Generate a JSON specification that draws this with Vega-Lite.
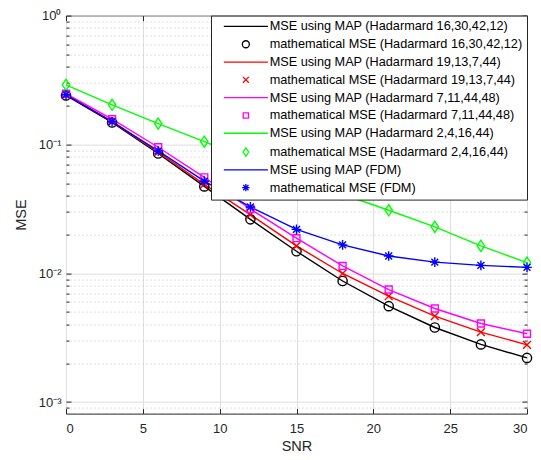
{
  "$schema": "https://vega.github.io/schema/vega-lite/v6.json",
  "width": 461,
  "height": 398,
  "autosize": {"type": "none"},
  "padding": {"left": 66, "top": 15.6, "right": 14, "bottom": 46.4},
  "background": "white",
  "data": {
    "values": [
      {"line": "MSE using MAP (Hadarmard 16,30,42,12)", "marker": "mathematical MSE (Hadarmard 16,30,42,12)", "snr": 0, "mse": 0.240},
      {"line": "MSE using MAP (Hadarmard 16,30,42,12)", "marker": "mathematical MSE (Hadarmard 16,30,42,12)", "snr": 3, "mse": 0.148},
      {"line": "MSE using MAP (Hadarmard 16,30,42,12)", "marker": "mathematical MSE (Hadarmard 16,30,42,12)", "snr": 6, "mse": 0.085},
      {"line": "MSE using MAP (Hadarmard 16,30,42,12)", "marker": "mathematical MSE (Hadarmard 16,30,42,12)", "snr": 9, "mse": 0.0472},
      {"line": "MSE using MAP (Hadarmard 16,30,42,12)", "marker": "mathematical MSE (Hadarmard 16,30,42,12)", "snr": 12, "mse": 0.0262},
      {"line": "MSE using MAP (Hadarmard 16,30,42,12)", "marker": "mathematical MSE (Hadarmard 16,30,42,12)", "snr": 15, "mse": 0.0148},
      {"line": "MSE using MAP (Hadarmard 16,30,42,12)", "marker": "mathematical MSE (Hadarmard 16,30,42,12)", "snr": 18, "mse": 0.0087},
      {"line": "MSE using MAP (Hadarmard 16,30,42,12)", "marker": "mathematical MSE (Hadarmard 16,30,42,12)", "snr": 21, "mse": 0.00555},
      {"line": "MSE using MAP (Hadarmard 16,30,42,12)", "marker": "mathematical MSE (Hadarmard 16,30,42,12)", "snr": 24, "mse": 0.00379},
      {"line": "MSE using MAP (Hadarmard 16,30,42,12)", "marker": "mathematical MSE (Hadarmard 16,30,42,12)", "snr": 27, "mse": 0.0028},
      {"line": "MSE using MAP (Hadarmard 16,30,42,12)", "marker": "mathematical MSE (Hadarmard 16,30,42,12)", "snr": 30, "mse": 0.0022},
      {"line": "MSE using MAP (Hadarmard 19,13,7,44)", "marker": "mathematical MSE (Hadarmard 19,13,7,44)", "snr": 0, "mse": 0.244},
      {"line": "MSE using MAP (Hadarmard 19,13,7,44)", "marker": "mathematical MSE (Hadarmard 19,13,7,44)", "snr": 3, "mse": 0.151},
      {"line": "MSE using MAP (Hadarmard 19,13,7,44)", "marker": "mathematical MSE (Hadarmard 19,13,7,44)", "snr": 6, "mse": 0.087},
      {"line": "MSE using MAP (Hadarmard 19,13,7,44)", "marker": "mathematical MSE (Hadarmard 19,13,7,44)", "snr": 9, "mse": 0.049},
      {"line": "MSE using MAP (Hadarmard 19,13,7,44)", "marker": "mathematical MSE (Hadarmard 19,13,7,44)", "snr": 12, "mse": 0.0285},
      {"line": "MSE using MAP (Hadarmard 19,13,7,44)", "marker": "mathematical MSE (Hadarmard 19,13,7,44)", "snr": 15, "mse": 0.0163},
      {"line": "MSE using MAP (Hadarmard 19,13,7,44)", "marker": "mathematical MSE (Hadarmard 19,13,7,44)", "snr": 18, "mse": 0.00995},
      {"line": "MSE using MAP (Hadarmard 19,13,7,44)", "marker": "mathematical MSE (Hadarmard 19,13,7,44)", "snr": 21, "mse": 0.00663},
      {"line": "MSE using MAP (Hadarmard 19,13,7,44)", "marker": "mathematical MSE (Hadarmard 19,13,7,44)", "snr": 24, "mse": 0.00464},
      {"line": "MSE using MAP (Hadarmard 19,13,7,44)", "marker": "mathematical MSE (Hadarmard 19,13,7,44)", "snr": 27, "mse": 0.00349},
      {"line": "MSE using MAP (Hadarmard 19,13,7,44)", "marker": "mathematical MSE (Hadarmard 19,13,7,44)", "snr": 30, "mse": 0.00278},
      {"line": "MSE using MAP (Hadarmard 7,11,44,48)", "marker": "mathematical MSE (Hadarmard 7,11,44,48)", "snr": 0, "mse": 0.248},
      {"line": "MSE using MAP (Hadarmard 7,11,44,48)", "marker": "mathematical MSE (Hadarmard 7,11,44,48)", "snr": 3, "mse": 0.157},
      {"line": "MSE using MAP (Hadarmard 7,11,44,48)", "marker": "mathematical MSE (Hadarmard 7,11,44,48)", "snr": 6, "mse": 0.095},
      {"line": "MSE using MAP (Hadarmard 7,11,44,48)", "marker": "mathematical MSE (Hadarmard 7,11,44,48)", "snr": 9, "mse": 0.0555},
      {"line": "MSE using MAP (Hadarmard 7,11,44,48)", "marker": "mathematical MSE (Hadarmard 7,11,44,48)", "snr": 12, "mse": 0.0315},
      {"line": "MSE using MAP (Hadarmard 7,11,44,48)", "marker": "mathematical MSE (Hadarmard 7,11,44,48)", "snr": 15, "mse": 0.0187},
      {"line": "MSE using MAP (Hadarmard 7,11,44,48)", "marker": "mathematical MSE (Hadarmard 7,11,44,48)", "snr": 18, "mse": 0.0114},
      {"line": "MSE using MAP (Hadarmard 7,11,44,48)", "marker": "mathematical MSE (Hadarmard 7,11,44,48)", "snr": 21, "mse": 0.00747},
      {"line": "MSE using MAP (Hadarmard 7,11,44,48)", "marker": "mathematical MSE (Hadarmard 7,11,44,48)", "snr": 24, "mse": 0.00532},
      {"line": "MSE using MAP (Hadarmard 7,11,44,48)", "marker": "mathematical MSE (Hadarmard 7,11,44,48)", "snr": 27, "mse": 0.00407},
      {"line": "MSE using MAP (Hadarmard 7,11,44,48)", "marker": "mathematical MSE (Hadarmard 7,11,44,48)", "snr": 30, "mse": 0.00339},
      {"line": "MSE using MAP (Hadarmard 2,4,16,44)", "marker": "mathematical MSE (Hadarmard 2,4,16,44)", "snr": 0, "mse": 0.290},
      {"line": "MSE using MAP (Hadarmard 2,4,16,44)", "marker": "mathematical MSE (Hadarmard 2,4,16,44)", "snr": 3, "mse": 0.203},
      {"line": "MSE using MAP (Hadarmard 2,4,16,44)", "marker": "mathematical MSE (Hadarmard 2,4,16,44)", "snr": 6, "mse": 0.145},
      {"line": "MSE using MAP (Hadarmard 2,4,16,44)", "marker": "mathematical MSE (Hadarmard 2,4,16,44)", "snr": 9, "mse": 0.105},
      {"line": "MSE using MAP (Hadarmard 2,4,16,44)", "marker": "mathematical MSE (Hadarmard 2,4,16,44)", "snr": 12, "mse": 0.076},
      {"line": "MSE using MAP (Hadarmard 2,4,16,44)", "marker": "mathematical MSE (Hadarmard 2,4,16,44)", "snr": 15, "mse": 0.055},
      {"line": "MSE using MAP (Hadarmard 2,4,16,44)", "marker": "mathematical MSE (Hadarmard 2,4,16,44)", "snr": 18, "mse": 0.041},
      {"line": "MSE using MAP (Hadarmard 2,4,16,44)", "marker": "mathematical MSE (Hadarmard 2,4,16,44)", "snr": 21, "mse": 0.0308},
      {"line": "MSE using MAP (Hadarmard 2,4,16,44)", "marker": "mathematical MSE (Hadarmard 2,4,16,44)", "snr": 24, "mse": 0.0229},
      {"line": "MSE using MAP (Hadarmard 2,4,16,44)", "marker": "mathematical MSE (Hadarmard 2,4,16,44)", "snr": 27, "mse": 0.0163},
      {"line": "MSE using MAP (Hadarmard 2,4,16,44)", "marker": "mathematical MSE (Hadarmard 2,4,16,44)", "snr": 30, "mse": 0.0121},
      {"line": "MSE using MAP (FDM)", "marker": "mathematical MSE (FDM)", "snr": 0, "mse": 0.243},
      {"line": "MSE using MAP (FDM)", "marker": "mathematical MSE (FDM)", "snr": 3, "mse": 0.150},
      {"line": "MSE using MAP (FDM)", "marker": "mathematical MSE (FDM)", "snr": 6, "mse": 0.089},
      {"line": "MSE using MAP (FDM)", "marker": "mathematical MSE (FDM)", "snr": 9, "mse": 0.0518},
      {"line": "MSE using MAP (FDM)", "marker": "mathematical MSE (FDM)", "snr": 12, "mse": 0.0327},
      {"line": "MSE using MAP (FDM)", "marker": "mathematical MSE (FDM)", "snr": 15, "mse": 0.0219},
      {"line": "MSE using MAP (FDM)", "marker": "mathematical MSE (FDM)", "snr": 18, "mse": 0.0166},
      {"line": "MSE using MAP (FDM)", "marker": "mathematical MSE (FDM)", "snr": 21, "mse": 0.0136},
      {"line": "MSE using MAP (FDM)", "marker": "mathematical MSE (FDM)", "snr": 24, "mse": 0.0122},
      {"line": "MSE using MAP (FDM)", "marker": "mathematical MSE (FDM)", "snr": 27, "mse": 0.0115},
      {"line": "MSE using MAP (FDM)", "marker": "mathematical MSE (FDM)", "snr": 30, "mse": 0.0111}
    ]
  },
  "resolve": {
    "axis": {"x": "independent", "y": "independent"},
    "legend": {"color": "independent", "shape": "independent"}
  },
  "layer": [
    {
      "mark": {"type": "line", "strokeWidth": 1.4},
      "encoding": {
        "x": {"field": "snr", "type": "quantitative", "scale": {"domain": [0, 30], "nice": false, "zero": false},
          "axis": {"orient": "bottom", "title": "SNR", "values": [0, 5, 10, 15, 20, 25, 30], "grid": true, "gridColor": "#dedede", "ticks": false, "labelPadding": 9, "titlePadding": 4}},
        "y": {"field": "mse", "type": "quantitative", "scale": {"type": "log", "domain": [0.000813, 1], "nice": false},
          "axis": {"orient": "left", "title": "MSE", "values": [0.001, 0.01, 0.1, 1], "grid": true, "gridColor": "#dedede", "ticks": false, "labelPadding": 5, "titlePadding": 10,
            "labelExpr": "datum.value >= 0.5 ? '10⁰' : datum.value >= 0.05 ? '10⁻¹' : datum.value >= 0.005 ? '10⁻²' : '10⁻³'"}},
        "color": {"field": "line", "type": "nominal", "legend": null,
          "scale": {
            "domain": ["MSE using MAP (Hadarmard 16,30,42,12)", "mathematical MSE (Hadarmard 16,30,42,12)", "MSE using MAP (Hadarmard 19,13,7,44)", "mathematical MSE (Hadarmard 19,13,7,44)", "MSE using MAP (Hadarmard 7,11,44,48)", "mathematical MSE (Hadarmard 7,11,44,48)", "MSE using MAP (Hadarmard 2,4,16,44)", "mathematical MSE (Hadarmard 2,4,16,44)", "MSE using MAP (FDM)", "mathematical MSE (FDM)"],
            "range": ["#000000", "#000000", "#ff0000", "#ff0000", "#ff00ff", "#ff00ff", "#00ff00", "#00ff00", "#0000ff", "#0000ff"]}}
      }
    },
    {
      "mark": {"type": "point", "filled": false, "size": 85, "strokeWidth": 1.4, "opacity": 1},
      "encoding": {
        "x": {"field": "snr", "type": "quantitative", "scale": {"domain": [0, 30], "nice": false, "zero": false},
          "axis": {"orient": "top", "title": null, "values": [0, 5, 10, 15, 20, 25, 30], "grid": false, "labels": false, "ticks": true, "tickSize": -5}},
        "y": {"field": "mse", "type": "quantitative", "scale": {"type": "log", "domain": [0.000813, 1], "nice": false},
          "axis": {"orient": "left", "title": null, "values": [0.0009, 0.002, 0.003, 0.004, 0.005, 0.006, 0.007, 0.008, 0.009, 0.02, 0.03, 0.04, 0.05, 0.06, 0.07, 0.08, 0.09, 0.2, 0.3, 0.4, 0.5, 0.6, 0.7, 0.8, 0.9],
            "grid": true, "gridColor": "#c4c4c4", "gridDash": [1, 3], "labels": false, "ticks": true, "tickSize": -3}},
        "color": {"field": "marker", "type": "nominal", "legend": {"title": null, "zindex": 1},
          "scale": {
            "domain": ["MSE using MAP (Hadarmard 16,30,42,12)", "mathematical MSE (Hadarmard 16,30,42,12)", "MSE using MAP (Hadarmard 19,13,7,44)", "mathematical MSE (Hadarmard 19,13,7,44)", "MSE using MAP (Hadarmard 7,11,44,48)", "mathematical MSE (Hadarmard 7,11,44,48)", "MSE using MAP (Hadarmard 2,4,16,44)", "mathematical MSE (Hadarmard 2,4,16,44)", "MSE using MAP (FDM)", "mathematical MSE (FDM)"],
            "range": ["#000000", "#000000", "#ff0000", "#ff0000", "#ff00ff", "#ff00ff", "#00ff00", "#00ff00", "#0000ff", "#0000ff"]}},
        "shape": {"field": "marker", "type": "nominal", "legend": {"title": null, "zindex": 1},
          "scale": {
            "domain": ["MSE using MAP (Hadarmard 16,30,42,12)", "mathematical MSE (Hadarmard 16,30,42,12)", "MSE using MAP (Hadarmard 19,13,7,44)", "mathematical MSE (Hadarmard 19,13,7,44)", "MSE using MAP (Hadarmard 7,11,44,48)", "mathematical MSE (Hadarmard 7,11,44,48)", "MSE using MAP (Hadarmard 2,4,16,44)", "mathematical MSE (Hadarmard 2,4,16,44)", "MSE using MAP (FDM)", "mathematical MSE (FDM)"],
            "range": ["M-6.3,0L6.3,0", "circle", "M-6.3,0L6.3,0", "M-0.85,-0.85L0.85,0.85M-0.85,0.85L0.85,-0.85", "M-6.3,0L6.3,0", "M-0.75,-0.75L0.75,-0.75L0.75,0.75L-0.75,0.75Z", "M-6.3,0L6.3,0", "M0,-1.2L0.8,0L0,1.2L-0.8,0Z", "M-6.3,0L6.3,0", "M0,-1.05L0,1.05M-1.05,0L1.05,0M-0.75,-0.75L0.75,0.75M-0.75,0.75L0.75,-0.75"]}}
      }
    },
    {
      "mark": {"type": "point", "opacity": 0},
      "encoding": {
        "x": {"field": "snr", "type": "quantitative", "scale": {"domain": [0, 30], "nice": false, "zero": false},
          "axis": {"orient": "bottom", "title": null, "values": [0, 5, 10, 15, 20, 25, 30], "grid": false, "labels": false, "ticks": true, "tickSize": -5}},
        "y": {"field": "mse", "type": "quantitative", "scale": {"type": "log", "domain": [0.000813, 1], "nice": false},
          "axis": {"orient": "left", "title": null, "values": [0.001, 0.01, 0.1, 1], "grid": false, "labels": false, "ticks": true, "tickSize": -5}}
      }
    },
    {
      "mark": {"type": "point", "opacity": 0},
      "encoding": {
        "x": {"field": "snr", "type": "quantitative", "scale": {"domain": [0, 30], "nice": false, "zero": false}, "axis": null},
        "y": {"field": "mse", "type": "quantitative", "scale": {"type": "log", "domain": [0.000813, 1], "nice": false},
          "axis": {"orient": "right", "title": null, "values": [0.001, 0.01, 0.1, 1], "grid": false, "labels": false, "ticks": true, "tickSize": -5}}
      }
    },
    {
      "mark": {"type": "point", "opacity": 0},
      "encoding": {
        "x": {"field": "snr", "type": "quantitative", "scale": {"domain": [0, 30], "nice": false, "zero": false}, "axis": null},
        "y": {"field": "mse", "type": "quantitative", "scale": {"type": "log", "domain": [0.000813, 1], "nice": false},
          "axis": {"orient": "right", "title": null, "values": [0.0009, 0.002, 0.003, 0.004, 0.005, 0.006, 0.007, 0.008, 0.009, 0.02, 0.03, 0.04, 0.05, 0.06, 0.07, 0.08, 0.09, 0.2, 0.3, 0.4, 0.5, 0.6, 0.7, 0.8, 0.9],
            "grid": false, "labels": false, "ticks": true, "tickSize": -3}}
      }
    }
  ],
  "config": {
    "view": {"stroke": "#262626", "strokeWidth": 1},
    "font": "Liberation Sans",
    "axis": {
      "labelFont": "Liberation Sans", "titleFont": "Liberation Sans",
      "labelColor": "#262626", "titleColor": "#262626", "tickColor": "#262626",
      "labelFontSize": 13, "titleFontSize": 14.5, "titleFontWeight": "normal",
      "domain": false, "gridWidth": 1, "tickWidth": 1
    },
    "legend": {
      "orient": "top-right", "offset": 0, "padding": 4.5, "rowPadding": 3.8,
      "strokeColor": "#262626", "fillColor": "white", "cornerRadius": 0,
      "labelFont": "Liberation Sans", "labelFontSize": 12.7, "labelColor": "#000000", "labelLimit": 400,
      "symbolSize": 49, "symbolStrokeWidth": 1.3, "symbolOffset": 24, "labelOffset": 17.5
    }
  }
}
